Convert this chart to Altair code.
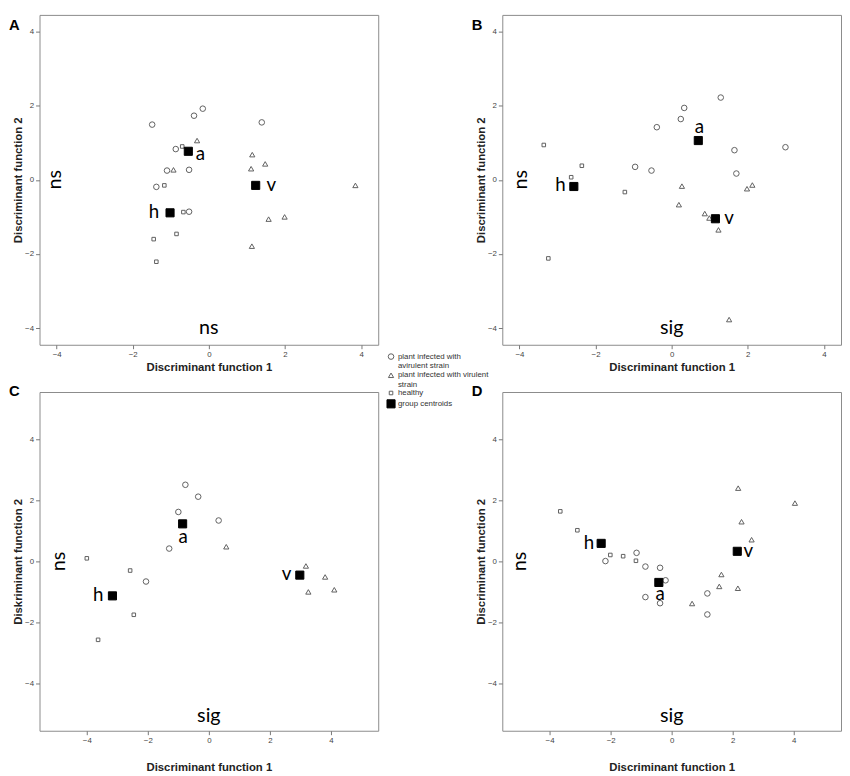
import altair as alt
import pandas as pd

GROUPS = ["plant infected with avirulent strain",
          "plant infected with virulent strain",
          "healthy",
          "group centroids"]

# ---------------- Panel A ----------------
A_avir_x = [-1.49, -0.39, -0.16, 1.39, -0.87, -1.10, -0.52, -1.38, -0.52]
A_avir_y = [1.49, 1.73, 1.92, 1.55, 0.83, 0.25, 0.27, -0.19, -0.86]
A_vir_x = [-0.31, -0.93, 1.14, 1.11, 1.48, 3.85, 1.57, 1.99, 1.13]
A_vir_y = [1.06, 0.27, 0.68, 0.30, 0.43, -0.15, -1.06, -1.00, -1.79]
A_heal_x = [-0.70, -1.17, -0.67, -0.85, -1.45, -1.38]
A_heal_y = [0.90, -0.15, -0.87, -1.46, -1.60, -2.21]
A_cent_x = [-0.54, -1.02, 1.23]
A_cent_y = [0.77, -0.89, -0.15]
A_lab_x = [-0.22, -1.44, 1.64]
A_lab_y = [0.70, -0.88, -0.14]
A_side_note = ["ns", -4.03, 0.0]
A_bottom_note = ["ns", 0.0, -4.0]

# ---------------- Panel B ----------------
B_avir_x = [1.29, 0.33, 0.24, -0.39, 1.65, 2.99, -0.96, -0.53, 1.70]
B_avir_y = [2.22, 1.94, 1.64, 1.42, 0.80, 0.88, 0.35, 0.25, 0.17]
B_vir_x = [0.27, 0.19, 1.98, 2.12, 0.87, 0.99, 1.23, 1.51]
B_vir_y = [-0.17, -0.67, -0.24, -0.14, -0.91, -1.03, -1.35, -3.77]
B_heal_x = [-3.36, -2.36, -2.64, -1.23, -3.24]
B_heal_y = [0.94, 0.38, 0.07, -0.33, -2.12]
B_cent_x = [0.70, -2.57, 1.15]
B_cent_y = [1.06, -0.18, -1.05]
B_lab_x = [0.73, -2.92, 1.51]
B_lab_y = [1.42, -0.15, -1.02]
B_side_note = ["ns", -3.95, 0.0]
B_bottom_note = ["sig", 0.0, -4.0]

# ---------------- Panel C ----------------
C_avir_x = [-0.77, -0.35, -1.00, 0.32, -1.30, -2.06]
C_avir_y = [2.51, 2.12, 1.62, 1.34, 0.42, -0.66]
C_vir_x = [0.57, 3.18, 3.81, 3.26, 4.11]
C_vir_y = [0.48, -0.15, -0.51, -1.00, -0.93]
C_heal_x = [-4.00, -2.58, -2.46, -3.63]
C_heal_y = [0.10, -0.30, -1.75, -2.57]
C_cent_x = [-0.86, -3.16, 2.98]
C_cent_y = [1.23, -1.13, -0.45]
C_lab_x = [-0.84, -3.63, 2.55]
C_lab_y = [0.80, -1.10, -0.43]
C_side_note = ["ns", -4.9, 0.0]
C_bottom_note = ["sig", 0.0, -5.06]

# ---------------- Panel D ----------------
D_avir_x = [-2.17, -1.15, -0.86, -0.38, -0.20, -0.86, -0.38, 1.17, 1.17]
D_avir_y = [0.01, 0.28, -0.17, -0.21, -0.62, -1.17, -1.37, -1.05, -1.74]
D_vir_x = [2.18, 4.04, 2.29, 2.62, 1.63, 1.56, 2.17, 0.67]
D_vir_y = [2.40, 1.91, 1.30, 0.71, -0.43, -0.82, -0.88, -1.38]
D_heal_x = [-3.65, -3.09, -2.01, -1.59, -1.17]
D_heal_y = [1.64, 1.02, 0.21, 0.17, 0.02]
D_cent_x = [-0.42, -2.31, 2.15]
D_cent_y = [-0.69, 0.59, 0.33]
D_lab_x = [-0.38, -2.71, 2.51]
D_lab_y = [-1.07, 0.61, 0.35]
D_side_note = ["ns", -4.97, 0.0]
D_bottom_note = ["sig", 0.0, -5.06]

CENT_LABELS = ["a", "h", "v"]
X_TITLE = "Discriminant function 1"
TICKS = [-4, -2, 0, 2, 4]


def points_frame(avx, avy, vx, vy, hx, hy, cx, cy):
    rows = []
    for g, xs, ys in [(GROUPS[0], avx, avy), (GROUPS[1], vx, vy),
                      (GROUPS[2], hx, hy), (GROUPS[3], cx, cy)]:
        for x, y in zip(xs, ys):
            rows.append({"group": g, "x": x, "y": y})
    return pd.DataFrame(rows)


LABEL_EXPR = ("datum.label === 'plant infected with avirulent strain' ? "
              "['plant infected with', 'avirulent strain'] : "
              "datum.label === 'plant infected with virulent strain' ? "
              "['plant infected with virulent', 'strain'] : datum.label")

legend = alt.Legend(title=None, orient="none", legendX=352, legendY=343,
                    labelExpr=LABEL_EXPR)

shape_enc = alt.Shape("group:N", legend=legend,
                      scale=alt.Scale(domain=GROUPS, range=["circle", "triangle-up", "square", "square"]))
fill_enc = alt.Fill("group:N",
                    scale=alt.Scale(domain=GROUPS, range=["transparent", "transparent", "transparent", "black"]))
stroke_enc = alt.Stroke("group:N",
                        scale=alt.Scale(domain=GROUPS, range=["#606060", "#606060", "#606060", "black"]))
size_enc = alt.Size("group:N",
                    scale=alt.Scale(type="ordinal", domain=GROUPS, range=[32, 28, 13, 68]))


def panel(letter, df, lab_x, lab_y, side, bottom, dom, ytitle, toff, h, xpad):
    xsc = alt.Scale(domain=dom, nice=False, zero=False)
    ysc = alt.Scale(domain=dom, nice=False, zero=False)
    xenc = alt.X("x:Q", scale=xsc,
                 axis=alt.Axis(title=X_TITLE, values=TICKS, format="d", titlePadding=xpad))
    yenc = alt.Y("y:Q", scale=ysc, axis=alt.Axis(title=ytitle, values=TICKS, format="d"))

    pts = alt.Chart(df).mark_point(filled=False, strokeWidth=1, opacity=1).encode(
        x=xenc, y=yenc, shape=shape_enc, fill=fill_enc, stroke=stroke_enc, size=size_enc)

    labs = pd.DataFrame({"x": lab_x, "y": lab_y, "t": CENT_LABELS})
    lab_layer = alt.Chart(labs).mark_text(font="Lato", fontSize=19, color="black",
                                          align="center", baseline="middle").encode(
        x="x:Q", y="y:Q", text="t:N")

    side_df = pd.DataFrame({"x": [side[1]], "y": [side[2]], "t": [side[0]]})
    side_layer = alt.Chart(side_df).mark_text(font="Lato", fontSize=20, color="black",
                                              align="center", baseline="middle", angle=270).encode(
        x="x:Q", y="y:Q", text="t:N")

    bot_df = pd.DataFrame({"x": [bottom[1]], "y": [bottom[2]], "t": [bottom[0]]})
    bot_layer = alt.Chart(bot_df).mark_text(font="Lato", fontSize=20, color="black",
                                            align="center", baseline="middle").encode(
        x="x:Q", y="y:Q", text="t:N")

    return alt.layer(pts, lab_layer, side_layer, bot_layer).properties(
        width=344, height=h,
        title=alt.TitleParams(text=letter, anchor="start", frame="group", dx=-31,
                              offset=toff, font="Liberation Sans", fontSize=15,
                              fontWeight="bold", color="black"),
    )


dfA = points_frame(A_avir_x, A_avir_y, A_vir_x, A_vir_y, A_heal_x, A_heal_y, A_cent_x, A_cent_y)
dfB = points_frame(B_avir_x, B_avir_y, B_vir_x, B_vir_y, B_heal_x, B_heal_y, B_cent_x, B_cent_y)
dfC = points_frame(C_avir_x, C_avir_y, C_vir_x, C_vir_y, C_heal_x, C_heal_y, C_cent_x, C_cent_y)
dfD = points_frame(D_avir_x, D_avir_y, D_vir_x, D_vir_y, D_heal_x, D_heal_y, D_cent_x, D_cent_y)

domAB = [-4.45, 4.45]
domCD = [-5.55, 5.55]

pA = panel("A", dfA, A_lab_x, A_lab_y, A_side_note, A_bottom_note, domAB,
           "Discriminant function 2", -18, 335, 3)
pB = panel("B", dfB, B_lab_x, B_lab_y, B_side_note, B_bottom_note, domAB,
           "Discriminant function 2", -18, 335, 3)
pC = panel("C", dfC, C_lab_x, C_lab_y, C_side_note, C_bottom_note, domCD,
           "Diskriminant function 2", -7, 344, 17)
pD = panel("D", dfD, D_lab_x, D_lab_y, D_side_note, D_bottom_note, domCD,
           "Discriminant function 2", -7, 344, 17)

res = dict(x="independent", y="independent", shape="shared", fill="shared",
           stroke="shared", size="shared")

row1 = alt.hconcat(pA, pB, spacing=93).resolve_scale(**res)
row2 = alt.hconcat(pC, pD, spacing=93).resolve_scale(**res)

chart = alt.vconcat(row1, row2, spacing=10).resolve_scale(**res).properties(
    padding=0
).configure_view(
    stroke="#8a8a8a", strokeWidth=1
).configure_axis(
    domain=False, grid=False, tickColor="#777777", tickSize=4,
    labelFont="Liberation Sans", labelFontSize=8, labelColor="#444444", labelPadding=2,
    titleFont="Liberation Sans", titleFontSize=11.5, titleFontWeight="bold", titleColor="#222222",
).configure_axisY(
    minExtent=15, maxExtent=15, titlePadding=1
).configure_legend(
    padding=0, labelFont="Liberation Sans", labelFontSize=8, labelColor="#333333",
    labelOffset=2, rowPadding=0, symbolStrokeWidth=1, labelLimit=200, gridAlign="none",
)

chart.save("out.html", embed_options={"renderer": "svg", "actions": False})
